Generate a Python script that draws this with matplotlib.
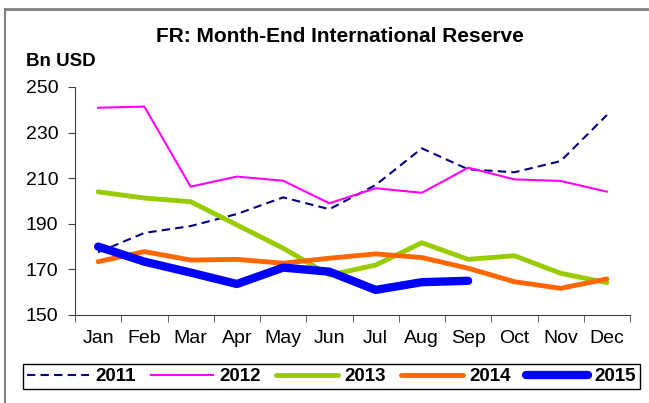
import matplotlib.pyplot as plt
import numpy as np
from matplotlib.lines import Line2D

plt.rcParams['font.family'] = ['Liberation Sans', 'DejaVu Sans']

months = ['Jan', 'Feb', 'Mar', 'Apr', 'May', 'Jun',
          'Jul', 'Aug', 'Sep', 'Oct', 'Nov', 'Dec']

# month-end reserves, Bn USD
r2011 = [177.5, 186.0, 189.0, 194.3, 201.6, 196.4, 207.0, 223.1, 213.9, 212.6, 217.5, 237.7]
r2012 = [240.9, 241.4, 206.3, 210.7, 208.9, 199.0, 205.6, 203.6, 214.6, 209.5, 208.8, 204.1]
r2013 = [204.0, 201.3, 199.7, 189.5, 179.3, 167.5, 171.9, 181.7, 174.4, 176.0, 168.3, 164.2]
r2014 = [173.4, 177.8, 174.1, 174.4, 172.7, 174.9, 176.8, 175.2, 170.5, 164.6, 161.7, 165.8]
r2015 = [180.0, 173.4, 168.6, 163.6, 170.8, 169.0, 161.0, 164.4, 165.0]

fig = plt.figure(figsize=(6.49, 4.03), dpi=100)
ax = fig.add_axes([75/649, 1-315/403, 555/649, 228/403])

x = np.arange(len(months))
ax.plot(x, r2011, color='#000080', lw=1.5, ls=(0, (4, 2.5)), label='2011')
ax.plot(x, r2012, color='#FF00FF', lw=1.5, label='2012')
ax.plot(x, r2013, color='#99CC00', lw=3.5, label='2013', solid_capstyle='round')
ax.plot(x, r2014, color='#FF6600', lw=3.5, label='2014', solid_capstyle='round')
ax.plot(np.arange(len(r2015)), r2015, color='#0000FF', lw=6, label='2015',
        solid_capstyle='round', solid_joinstyle='round')

ax.set_xlim(-0.5, 11.5)
ax.set_ylim(150, 250)
ax.set_yticks(np.arange(150, 251, 20))
ax.set_xticks(x)
ax.set_xticklabels(months)
ax.set_xticks(np.arange(-0.5, 12, 1), minor=True)
ax.tick_params(axis='x', which='major', length=0, pad=11, labelsize=14)
ax.tick_params(axis='x', which='minor', length=5, direction='out', color='#404040')
ax.tick_params(axis='y', length=5, direction='out', pad=7, labelsize=14, color='#404040')
for s in ['top', 'right']:
    ax.spines[s].set_visible(False)
for s in ['left', 'bottom']:
    ax.spines[s].set_color('#404040')

fig.text(340/649, 1-37/403, 'FR: Month-End International Reserve',
         ha='center', va='center', fontsize=15, fontweight='bold')
fig.text(26/649, 1-62/403, 'Bn USD', ha='left', va='center',
         fontsize=13.5, fontweight='bold')

leg = fig.legend(loc='center', ncol=5,
                 bbox_to_anchor=((22 + 641) / 2 / 649, 1 - 376.5/403),
                 prop={'weight': 'bold', 'size': 13.5}, handlelength=3.3,
                 handletextpad=0.35, columnspacing=0.8, borderpad=0.2,
                 fancybox=False, edgecolor='black', framealpha=1)
leg.get_frame().set_linewidth(1.0)

# outer frame
fig.add_artist(Line2D([5/649, 1], [1-9/403, 1-9/403], color='#808080', lw=2,
                      transform=fig.transFigure))
fig.add_artist(Line2D([5/649, 5/649], [0, 1-9/403], color='#808080', lw=1.5,
                      transform=fig.transFigure))

fig.savefig('out.png', dpi=100)
